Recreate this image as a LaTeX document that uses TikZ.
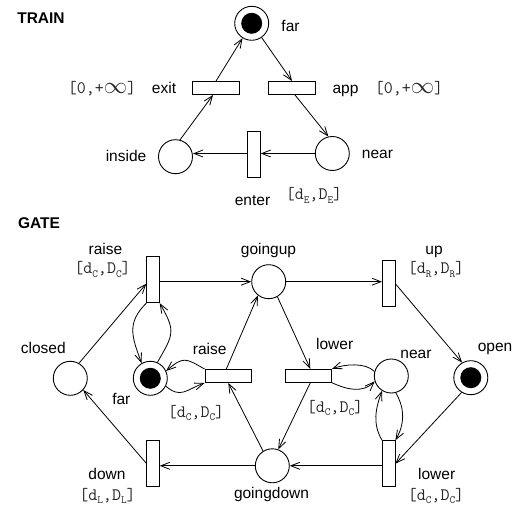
\documentclass[tikz,border=0pt]{standalone}
\usepackage{graphicx}
\usepackage{fontspec}
\setmainfont{Liberation Sans}
\usetikzlibrary{arrows.meta}
\newcommand\subl[1]{\raisebox{-0.45ex}{\fontsize{11}{11}\selectfont #1}}
\newcommand\infsym{\scalebox{1.35}{$\infty$}}
\begin{document}
\begin{tikzpicture}[x=1pt,y=1pt,
 every node/.style={font=\fontsize{15.5}{18}\selectfont},
 place/.style={circle,draw,line width=0.9pt,minimum size=34pt,inner sep=0pt},
 marked/.style={place,path picture={\fill (path picture bounding box.center) circle (10.5pt);}},
 htrans/.style={rectangle,draw,fill=white,line width=0.9pt,minimum width=46.5pt,minimum height=13pt,inner sep=0pt},
 vtrans/.style={rectangle,draw,fill=white,line width=0.9pt,minimum width=12.5pt,minimum height=46pt,inner sep=0pt},
 lbl/.style={anchor=base,inner sep=0pt},
 tm/.style={anchor=base,inner sep=0pt,font=\ttfamily\fontsize{17.5}{20}\selectfont,text=black!85},
 hd/.style={anchor=base,inner sep=0pt,font=\bfseries\fontsize{15.5}{18}\selectfont},
 arc/.style={draw,line width=0.8pt,-{Straight Barb[length=9pt,width=7pt,line width=0.8pt]}}]
\useasboundingbox (0,0) rectangle (519,506);

% ---------------- TRAIN ----------------
\node[hd] (trainlbl) at (41,482.7) {TRAIN};
\node[marked] (tfar) at (251.7,482.7) {};
\node[lbl] (tfarl) at (290.5,474.3) {far};
\node[htrans] (exit) at (216,418) {};
\node[htrans] (app) at (292,418) {};
\node[lbl] (exitl) at (164,412) {exit};
\node[tm] (exitt) at (102,412) {[0,+\infsym]};
\node[lbl] (appl) at (345.5,412) {app};
\node[tm] (appt) at (409,412) {[0,+\infsym]};
\node[place] (inside) at (175.5,349.3) {};
\node[place] (tnear) at (332.3,352.5) {};
\node[vtrans] (enter) at (254,351.5) {};
\node[lbl] (insidel) at (126,344.3) {inside};
\node[lbl] (tnearl) at (377.5,347.7) {near};
\node[lbl] (enterl) at (252.5,300) {enter};
\node[tm] (entert) at (314,306) {[d\subl{E},D\subl{E}]};

\draw[arc] (tfar) -- (app.north);
\draw[arc] (exit.north) -- (tfar);
\draw[arc] ([xshift=3pt]app.south) -- (tnear.103);
\draw[arc] (inside.75) -- ([xshift=-3pt]exit.south);
\draw[arc] (tnear.west) -- (tnear.west -| enter.east);
\draw[arc] (enter.west |- tnear.west) -- (inside.east |- tnear.west);

% ---------------- GATE ----------------
\node[hd] (gatelbl) at (39,277.7) {GATE};
\node[vtrans] (graise) at (153,226.3) {};
\node[lbl] (graisel) at (105.5,251) {raise};
\node[tm] (graiset) at (102.5,232) {[d\subl{C},D\subl{C}]};
\node[place] (goingup) at (268.7,224.3) {};
\node[lbl] (goingupl) at (268.5,251) {goingup};
\node[vtrans] (up) at (388.7,222.2) {};
\node[lbl] (upl) at (434,251) {up};
\node[tm] (upt) at (436,232) {[d\subl{R},D\subl{R}]};
\node[place] (closed) at (70.3,127.7) {};
\node[lbl] (closedl) at (43.3,152.7) {closed};
\node[marked] (gfar) at (150.3,127.7) {};
\node[lbl] (gfarl) at (121.3,102) {far};
\node[htrans] (mraise) at (228.3,130) {};
\node[lbl] (mraisel) at (209.7,151) {raise};
\node[tm] (mraiset) at (196,88.7) {[d\subl{C},D\subl{C}]};
\node[htrans] (mlower) at (308.3,130.2) {};
\node[lbl] (mlowerl) at (334.7,156) {lower};
\node[tm] (mlowert) at (335,94) {[d\subl{C},D\subl{C}]};
\node[place] (gnear) at (391.3,130) {};
\node[lbl] (gnearl) at (416,147.7) {near};
\node[marked] (open) at (470.8,128.3) {};
\node[lbl] (openl) at (495,154.3) {open};
\node[vtrans] (down) at (153,42.7) {};
\node[lbl] (downl) at (107,26.7) {down};
\node[tm] (downt) at (107.5,6) {[d\subl{L},D\subl{L}]};
\node[vtrans] (glower) at (388.7,42.3) {};
\node[lbl] (glowerl) at (436.7,26.7) {lower};
\node[tm] (glowert) at (436,6) {[d\subl{C},D\subl{C}]};
\node[place] (goingdown) at (272.3,40.2) {};
\node[lbl] (goingdownl) at (271.5,8) {goingdown};

\draw[arc] (closed.60) -- ([yshift=-4pt]graise.west);
\draw[arc] ([yshift=-2pt]graise.east) -- (goingup.west);
\draw[arc] (graise.south west) to[out=225,in=110,looseness=1.2] (gfar.120);
\draw[arc] (gfar.66) to[out=60,in=-60,looseness=1.4] (graise.south east);
\draw[arc] (mraise.north west) to[out=150,in=40,looseness=1.5] (gfar.25);
\draw[arc] (gfar.-27) to[out=-40,in=200,looseness=1.3] (mraise.south west);
\draw[arc] ([xshift=-2pt]mraise.north) -- (goingup.232);
\draw[arc] (goingdown.122) -- (mraise.south);
\draw[arc] (goingup.300) -- ([xshift=2pt]mlower.north);
\draw[arc] ([xshift=2pt]mlower.south) -- (goingdown.70);
\draw[arc] (gnear.165) to[out=135,in=20,looseness=0.8] (mlower.north east);
\draw[arc] (mlower.south east) to[out=-25,in=225] (gnear.198);
\draw[arc] (glower.north west) to[out=120,in=250] (gnear.238);
\draw[arc] (gnear.285) to[out=-60,in=60] (glower.north east);
\draw[arc] (goingup.east) -- (goingup.east -| up.west);
\draw[arc] (up.east) -- (open.120);
\draw[arc] (open.238) -- (glower.east);
\draw[arc] (glower.west |- goingdown.east) -- (goingdown.east);
\draw[arc] (goingdown.west) -- (goingdown.west -| down.east);
\draw[arc] (down.west) -- (closed.318);
\end{tikzpicture}
\end{document}
